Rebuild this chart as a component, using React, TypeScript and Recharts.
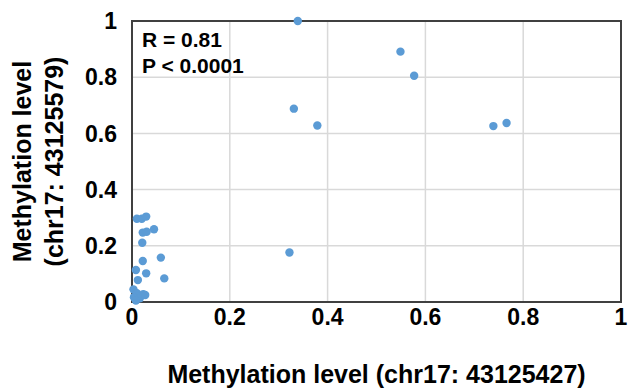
import React from 'react';
import { ScatterChart, Scatter, XAxis, YAxis, CartesianGrid, ReferenceArea } from 'recharts';

const xValues = [
  0.339, 0.331, 0.379, 0.322, 0.549, 0.577, 0.739, 0.766,
  0.010, 0.020, 0.029, 0.022, 0.030, 0.045, 0.021, 0.022, 0.059,
  0.008, 0.029, 0.066, 0.012, 0.003, 0.010, 0.023, 0.004, 0.016, 0.027, 0.008,
];
const yValues = [
  1.0, 0.688, 0.628, 0.176, 0.891, 0.805, 0.626, 0.637,
  0.296, 0.296, 0.304, 0.247, 0.250, 0.259, 0.211, 0.146, 0.158,
  0.114, 0.102, 0.084, 0.078, 0.045, 0.031, 0.028, 0.017, 0.013, 0.025, 0.005,
];
const ticks = [0, 0.2, 0.4, 0.6, 0.8, 1];
const xTitle = 'Methylation level (chr17: 43125427)';
const yTitleLines = ['Methylation level', '(chr17: 43125579)'];
const annotations = ['R = 0.81', 'P < 0.0001'];

const data = xValues.map((x, i) => ({ x, y: yValues[i] }));

const FONT = '"Liberation Sans", Arial, sans-serif';
const DOT = '#5b9bd5';

const dotShape = (props: any) => (
  <circle cx={props.cx} cy={props.cy} r={4.2} fill={DOT} />
);

export default function App() {
  return (
    <div style={{ position: 'absolute', left: 0, top: 0, background: '#fff' }}>
      <ScatterChart
        width={633}
        height={388}
        margin={{ top: 21, right: 12, left: 0, bottom: 0 }}
      >
        <CartesianGrid stroke="#d9d9d9" strokeWidth={1.5} />
        <XAxis
          type="number"
          dataKey="x"
          domain={[0, 1]}
          ticks={ticks}
          height={86}
          tickSize={0}
          tickMargin={7}
          tickLine={false}
          axisLine={{ stroke: '#404040', strokeWidth: 2 }}
          tick={{ fill: '#000', fontSize: 23, fontWeight: 'bold', fontFamily: FONT }}
          interval={0}
          label={{
            content: () => (
              <text
                x={376.5}
                y={383}
                textAnchor="middle"
                fontSize={25}
                fontWeight="bold"
                fontFamily={FONT}
                fill="#000"
              >
                {xTitle}
              </text>
            ),
          }}
        />
        <YAxis
          type="number"
          dataKey="y"
          domain={[0, 1]}
          ticks={ticks}
          width={132}
          tickSize={0}
          tickMargin={15}
          tickLine={false}
          axisLine={{ stroke: '#404040', strokeWidth: 2 }}
          tick={{ fill: '#000', fontSize: 23, fontWeight: 'bold', fontFamily: FONT }}
          interval={0}
          label={{
            content: () => (
              <g>
                {yTitleLines.map((t, i) => (
                  <text
                    key={i}
                    x={i === 0 ? 31 : 63}
                    y={161.5}
                    transform={`rotate(-90 ${i === 0 ? 31 : 63} 161.5)`}
                    textAnchor="middle"
                    fontSize={25}
                    fontWeight="bold"
                    fontFamily={FONT}
                    fill="#000"
                  >
                    {t}
                  </text>
                ))}
              </g>
            ),
          }}
        />
        <ReferenceArea x1={0} x2={1} y1={0} y2={1} fill="none" stroke="#404040" strokeWidth={2} />
        <Scatter data={data} shape={dotShape} isAnimationActive={false} />
        {annotations.map((t, i) => (
          <text
            key={i}
            x={142}
            y={47 + i * 26}
            fontSize={21}
            fontWeight="bold"
            fontFamily={FONT}
            fill="#000"
          >
            {t}
          </text>
        ))}
      </ScatterChart>
    </div>
  );
}
